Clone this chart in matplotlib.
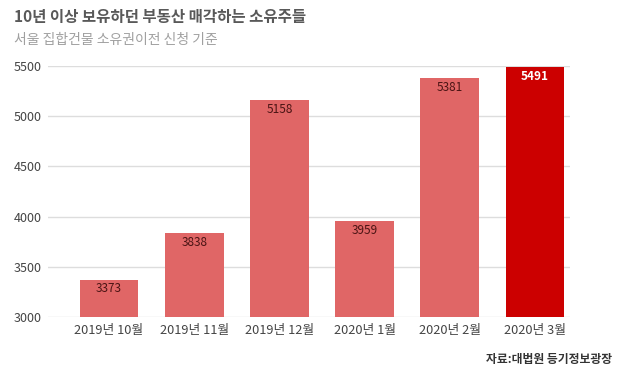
import matplotlib
matplotlib.use('Agg')
import matplotlib.pyplot as plt

plt.rcParams['font.family'] = ['Noto Sans CJK KR', 'DejaVu Sans']

months = ['2019년 10월', '2019년 11월', '2019년 12월', '2020년 1월', '2020년 2월', '2020년 3월']
counts = [3373, 3838, 5158, 3959, 5381, 5491]
colors = ['#e06666'] * 5 + ['#cc0000']

fig = plt.figure(figsize=(6.3, 3.85), dpi=100)
ax = fig.add_axes([48 / 630, 68 / 385, (570 - 48) / 630, (317 - 66) / 385])

x = list(range(len(months)))
bars = ax.bar(x, counts, width=0.69, color=colors, zorder=3)

for i, (b, v) in enumerate(zip(bars, counts)):
    last = i == len(counts) - 1
    ax.text(b.get_x() + b.get_width() / 2, v - 28, str(v),
            ha='center', va='top', fontsize=8.5,
            color='white' if last else '#4a1414',
            fontweight='bold' if last else 'normal', zorder=4)

ax.set_ylim(3000, 5500)
ax.set_xlim(-0.716, 5.41)
ax.set_yticks([3000, 3500, 4000, 4500, 5000, 5500])
ax.set_xticks(x)
ax.set_xticklabels(months)
ax.grid(axis='y', color='#dddddd', linewidth=1, zorder=0)
for s in ax.spines.values():
    s.set_visible(False)
ax.tick_params(axis='both', length=0, colors='#444444')
ax.tick_params(axis='y', pad=0, labelsize=9)
ax.tick_params(axis='x', pad=5, labelsize=9.2)
for lbl in ax.get_yticklabels():
    lbl.set_horizontalalignment('left')
    lbl.set_x(-34 / 522)

fig.text(14 / 630, 1 - 17 / 385, '10년 이상 보유하던 부동산 매각하는 소유주들',
         fontsize=11.2, fontweight='bold', color='#595959', va='center')
fig.text(14 / 630, 1 - 40 / 385, '서울 집합건물 소유권이전 신청 기준',
         fontsize=10, color='#a0a0a0', va='center')
fig.text(612 / 630, 1 - 359 / 385, '자료:대법원 등기정보광장',
         fontsize=8.5, fontweight='bold', color='#333333', ha='right', va='center')

fig.savefig('out.png', dpi=100)
